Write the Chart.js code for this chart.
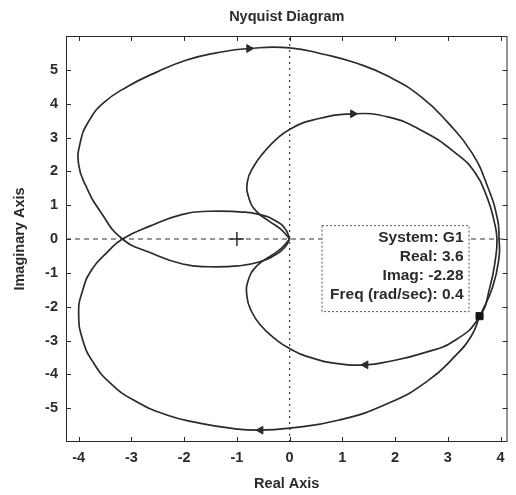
<!DOCTYPE html>
<html>
<head>
<meta charset="utf-8">
<script src="https://cdn.jsdelivr.net/npm/chart.js@4.4.0/dist/chart.umd.min.js"></script>
<style>
  body { margin: 0; background: #fff; }
</style>
</head>
<body>
<canvas id="myChart" width="516" height="495"></canvas>
<script>
// axis limits and tick labels
const xRange = [-4.24, 4.13];
const yRange = [-6, 6];
const xTicks = [-4, -3, -2, -1, 0, 1, 2, 3, 4];
const yTicks = [-5, -4, -3, -2, -1, 0, 1, 2, 3, 4, 5];

// outer branch of G1 (origin -> lower lens -> big loop -> upper lens -> origin)
const outerRe = [0, -0.08, -0.26, -0.58, -0.96, -1.52, -2.03, -2.65, -3.17,
  -3.58, -3.86, -4.0, -3.97, -3.82, -3.53, -3.08, -2.51, -1.95, -1.39, -0.77, 0, 0.64, 1.26, 1.88, 2.51, 3.0, 3.45, 3.75, 3.94, 3.97,
  3.97, 3.85, 3.6, 3.45, 3.13, 2.63, 1.88, 0.94, 0, -0.58, -1.09, -1.71, -2.33, -2.96, -3.4, -3.71, -3.92, -4.0, -3.93, -3.75, -3.45,
  -3.17, -2.65, -2.03, -1.52, -0.96, -0.58, -0.26, -0.08, 0];
const outerIm = [0, -0.22, -0.46, -0.68, -0.79, -0.82, -0.74, -0.4, 0,
  0.79, 1.56, 2.2, 2.85, 3.45, 4.02, 4.5, 4.94, 5.29, 5.5, 5.63, 5.65, 5.46, 5.2, 4.8, 4.18, 3.44, 2.56, 1.56, 0.59, 0,
  -0.53, -1.41, -2.3, -2.85, -3.47, -4.18, -4.85, -5.35, -5.59, -5.65, -5.6, -5.44, -5.2, -4.76, -4.26, -3.68, -3.0, -2.2, -1.55, -0.9, -0.38,
  0, 0.38, 0.73, 0.82, 0.8, 0.73, 0.53, 0.29, 0];

// inner loop of G1
const innerRe = [0, -0.17, -0.39, -0.62, -0.77, -0.8, -0.68, -0.49, -0.25, 0, 0.45, 1.2, 1.88, 2.51, 3.13, 3.51, 3.75, 3.88, 3.93,
  3.9, 3.8, 3.6, 3.13, 2.51, 1.88, 1.44, 0.94, 0.45, 0, -0.3, -0.55, -0.72, -0.81, -0.78, -0.62, -0.39, -0.17, 0];
const innerIm = [0, 0.29, 0.53, 0.8, 1.2, 1.7, 2.15, 2.56, 2.95, 3.24, 3.52, 3.7, 3.6, 3.2, 2.56, 1.97, 1.2, 0.5, 0,
  -0.6, -1.4, -2.3, -3.0, -3.38, -3.62, -3.72, -3.69, -3.53, -3.24, -2.92, -2.55, -2.15, -1.7, -1.2, -0.79, -0.53, -0.29, 0];

// direction arrows on the curve
const arrowRe = [-0.77, -0.55, 1.2, 1.44];
const arrowIm = [5.63, -5.65, 3.7, -3.72];
const arrowAngle = [90, -90, 90, -90];

// data cursor
const tipRe = 3.6;
const tipIm = -2.28;
const tipFreq = 0.4;
const systemName = "G1";

const ink = "#2b2b2b";
const fontFamily = "'Liberation Sans', Arial, sans-serif";

function toPoints(re, im) {
  return re.map((v, i) => ({ x: v, y: im[i] }));
}

const matlabFrame = {
  id: "matlabFrame",
  afterDatasetsDraw(chart) {
    const { ctx, chartArea: a } = chart;
    const sx = chart.scales.x;
    const sy = chart.scales.y;
    ctx.save();
    ctx.strokeStyle = ink;
    ctx.lineWidth = 1;
    ctx.strokeRect(a.left + 0.5, a.top + 0.5, a.right - a.left - 1, a.bottom - a.top - 1);
    ctx.beginPath();
    xTicks.forEach((v) => {
      const px = Math.round(sx.getPixelForValue(v)) + 0.5;
      ctx.moveTo(px, a.bottom); ctx.lineTo(px, a.bottom - 5);
      ctx.moveTo(px, a.top); ctx.lineTo(px, a.top + 5);
    });
    yTicks.forEach((v) => {
      const py = Math.round(sy.getPixelForValue(v)) + 0.5;
      ctx.moveTo(a.left, py); ctx.lineTo(a.left + 5, py);
      ctx.moveTo(a.right, py); ctx.lineTo(a.right - 5, py);
    });
    ctx.stroke();

    // title
    ctx.fillStyle = ink;
    ctx.font = "bold 14.5px " + fontFamily;
    ctx.textAlign = "center";
    ctx.textBaseline = "middle";
    ctx.fillText("Nyquist Diagram", (a.left + a.right) / 2, 17);

    // data tip box
    const mx = sx.getPixelForValue(tipRe);
    const my = sy.getPixelForValue(tipIm);
    const right = mx - 10, bottom = my - 4;
    const w = 148, h = 87;
    ctx.fillStyle = "#fff";
    ctx.fillRect(right - w, bottom - h, w, h);
    ctx.setLineDash([2, 2]);
    ctx.strokeStyle = "#555";
    ctx.strokeRect(right - w + 0.5, bottom - h + 0.5, w - 1, h - 1);
    ctx.setLineDash([]);
    const lines = ["System: " + systemName, "Real: " + tipRe, "Imag: " + tipIm, "Freq (rad/sec): " + tipFreq];
    ctx.fillStyle = ink;
    ctx.font = "bold 15.5px " + fontFamily;
    ctx.textAlign = "right";
    lines.forEach((t, i) => ctx.fillText(t, right - 6, bottom - h + 13 + i * 18.7));
    ctx.restore();
  },
};

const tickFont = { family: fontFamily, size: 14.5, weight: "bold" };

new Chart(document.getElementById("myChart").getContext("2d"), {
  type: "scatter",
  data: {
    datasets: [
      {
        label: "data tip",
        data: [{ x: tipRe, y: tipIm }],
        pointStyle: "rect",
        pointRadius: 5,
        pointBackgroundColor: "#151515",
        pointBorderColor: "#151515",
        order: 0,
      },
      {
        label: "arrows",
        data: toPoints(arrowRe, arrowIm),
        pointStyle: "triangle",
        pointRotation: arrowAngle,
        pointRadius: 4.5,
        pointBackgroundColor: ink,
        pointBorderColor: ink,
        order: 1,
      },
      {
        label: "-1 point",
        data: [{ x: -1, y: 0 }],
        pointStyle: "cross",
        pointRadius: 7,
        pointBorderWidth: 1.5,
        pointBorderColor: ink,
        order: 2,
      },
      {
        label: "outer",
        data: toPoints(outerRe, outerIm),
        showLine: true,
        pointRadius: 0,
        borderColor: ink,
        borderWidth: 1.7,
        tension: 0.5,
        order: 3,
      },
      {
        label: "inner",
        data: toPoints(innerRe, innerIm),
        showLine: true,
        pointRadius: 0,
        borderColor: ink,
        borderWidth: 1.7,
        tension: 0.5,
        order: 4,
      },
      {
        label: "real zero",
        data: [{ x: xRange[0], y: 0 }, { x: xRange[1], y: 0 }],
        showLine: true,
        pointRadius: 0,
        borderColor: "#333",
        borderWidth: 1.2,
        borderDash: [5, 4],
        order: 5,
      },
      {
        label: "imag zero",
        data: [{ x: 0, y: yRange[0] }, { x: 0, y: yRange[1] }],
        showLine: true,
        pointRadius: 0,
        borderColor: "#333",
        borderWidth: 1.2,
        borderDash: [2, 4],
        order: 6,
      },
    ],
  },
  options: {
    responsive: false,
    animation: false,
    devicePixelRatio: 1,
    layout: { padding: { top: 36, right: 4, left: 0, bottom: 0 } },
    plugins: { legend: { display: false }, tooltip: { enabled: false } },
    scales: {
      x: {
        type: "linear",
        min: xRange[0],
        max: xRange[1],
        afterBuildTicks: (s) => { s.ticks = xTicks.map((v) => ({ value: v })); },
        afterFit: (s) => { s.height = 53; },
        grid: { display: false, drawTicks: false },
        border: { display: false },
        ticks: { padding: 7, color: ink, font: tickFont, callback: (v) => String(v) },
        title: { display: true, text: "Real Axis", color: ink, font: tickFont, padding: { top: 0, bottom: 2 } },
      },
      y: {
        type: "linear",
        min: yRange[0],
        max: yRange[1],
        afterBuildTicks: (s) => { s.ticks = yTicks.map((v) => ({ value: v })); },
        afterFit: (s) => { s.width = 66; },
        grid: { display: false, drawTicks: false },
        border: { display: false },
        ticks: { padding: 8, color: ink, font: tickFont, callback: (v) => String(v) },
        title: { display: true, text: "Imaginary Axis", color: ink, font: tickFont, padding: { top: 11, bottom: 0 } },
      },
    },
  },
  plugins: [matlabFrame],
});
</script>
</body>
</html>
